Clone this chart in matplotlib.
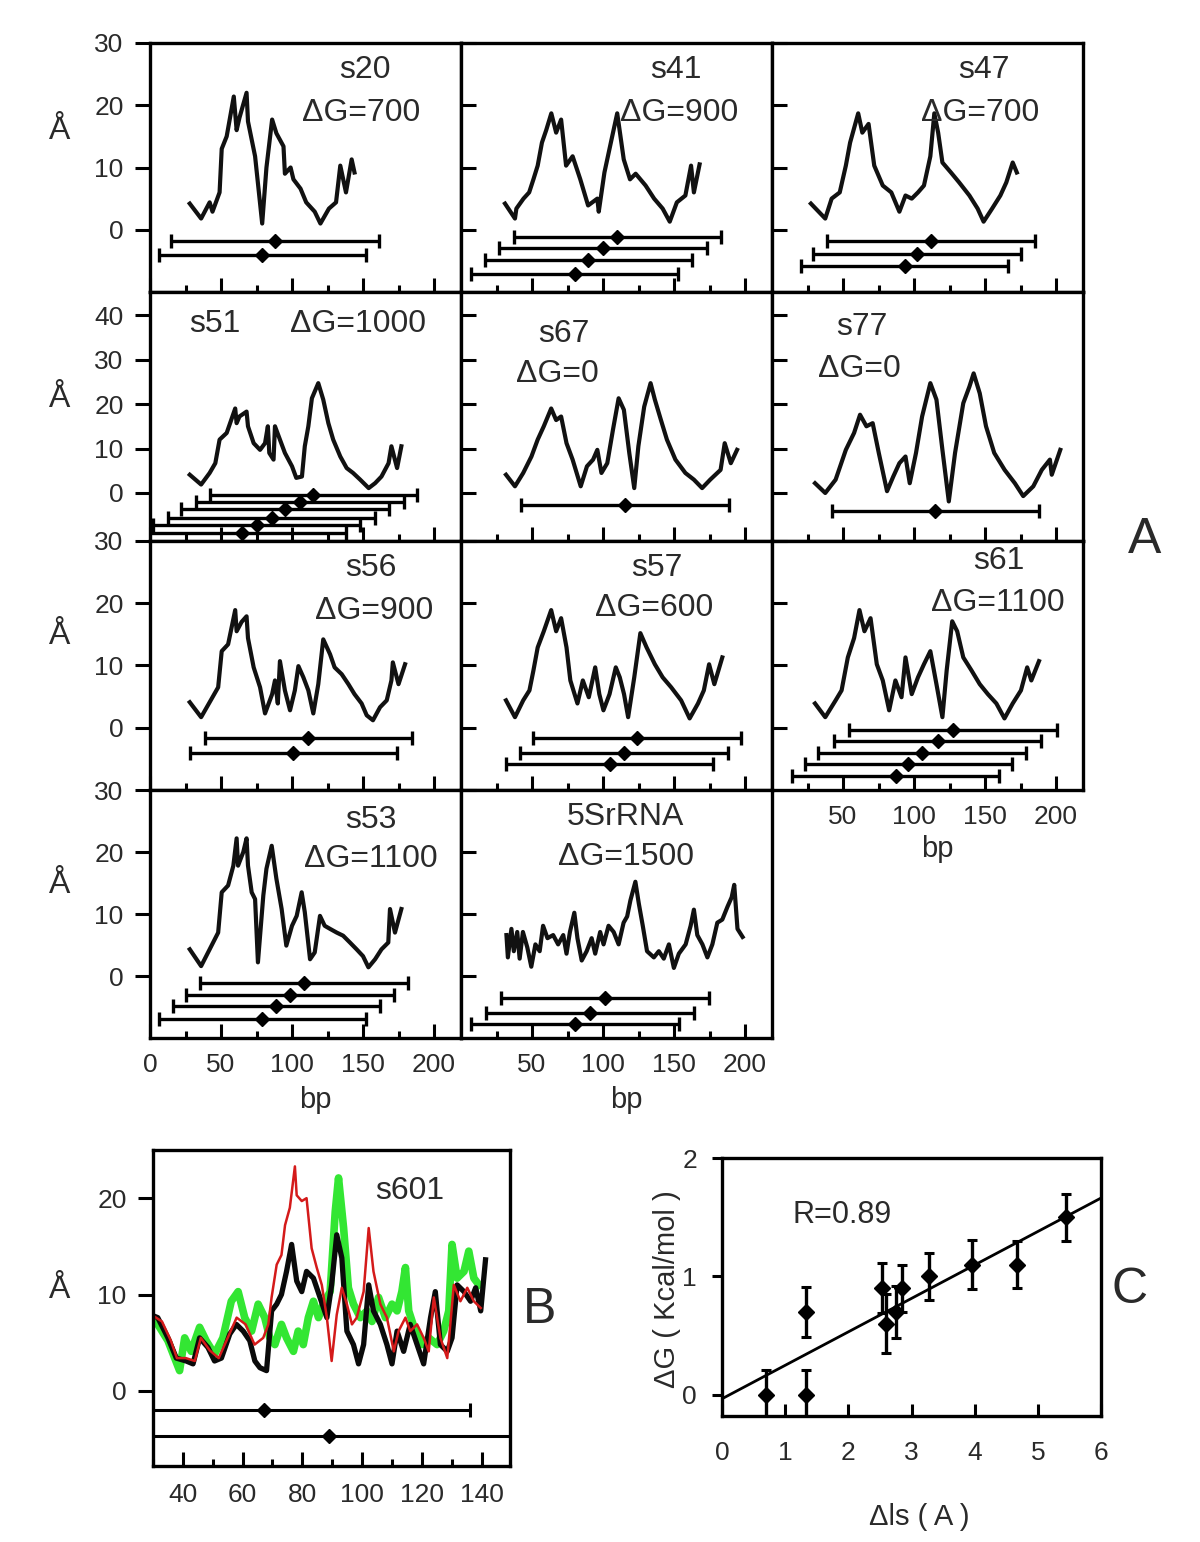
import numpy as np
import matplotlib.pyplot as plt
from matplotlib.ticker import MultipleLocator, FixedLocator

plt.rcParams['font.family'] = ['Liberation Sans', 'DejaVu Sans']

# ---------------- panel A profiles (bp, Angstrom) ----------------
s20_bp = [28, 36, 42, 44, 49, 50.5, 54, 59, 61, 63, 68, 69, 74, 79, 82, 86, 89, 94, 95, 99,
          101, 106, 110, 116, 120, 126, 131, 134, 138, 142, 144]
s20_val = [4.2, 1.8, 4.4, 2.9, 6, 13, 15, 21.4, 16, 18, 22, 17.4, 11.8, 1.0, 10, 17.7, 15.5, 13.4, 9, 10,
           8.1, 6.6, 4.4, 2.9, 1.0, 3.4, 4.4, 10.3, 6, 11.3, 9.2]

s41_bp = [31, 38, 39, 44, 48, 51, 54, 57, 60, 63.6, 67, 70.5, 74, 78.6, 84, 89.5, 96, 97, 101, 106,
          110, 112, 114.6, 119, 123, 130, 136, 142, 147, 152, 158, 162, 164, 168]
s41_val = [4.2, 1.8, 3.4, 5, 6, 8.1, 10.3, 14, 16, 18.7, 15.6, 17.7, 10.3, 11.8, 8.1, 3.9, 5, 2.9, 9.2, 14.5,
           18.7, 15.5, 11.3, 8.1, 9.0, 7.1, 5, 3.4, 1.3, 4.4, 5.5, 10.3, 6, 10.5]

s47_bp = [27.4, 37.5, 42, 47.7, 52, 55, 60.7, 63.6, 68, 72, 78, 84, 89.7, 94, 98.4, 102.8, 107, 111.5,
          114.3, 117, 120, 126, 131.8, 139, 144.8, 149, 155, 160.8, 165, 169.5, 172.4]
s47_val = [4.2, 1.8, 5, 6, 10.3, 14, 18.7, 15.6, 17, 10.3, 7.1, 6, 2.9, 5.5, 5, 6, 7.1, 11.8,
           18.7, 15.6, 10.8, 9.2, 7.6, 5.5, 3.4, 1.3, 3.4, 5.5, 7.6, 10.8, 9.2]

s51_bp = [28, 36, 42, 46, 49, 54, 60, 61, 63, 68, 69, 73, 77.5, 81, 83, 84, 87, 88, 91.5, 95,
          100, 103, 107, 109, 111.5, 114, 118.5, 122, 125.6, 129, 134, 138.5, 143, 148, 154, 158.5,
          163, 168, 170, 174, 177]
s51_val = [4.1, 1.9, 4.5, 6.7, 12, 13.5, 19, 15.7, 17.2, 18.3, 15, 11.2, 9.7, 11.2, 15, 9, 7.5, 15, 12, 9,
           6, 3.4, 3.7, 10.5, 15, 21.3, 24.7, 21, 15.7, 12, 8.2, 5.6, 4.5, 3, 1.1, 2.2,
           3.7, 6.7, 10.5, 5.6, 10.5]

s67_bp = [31.7, 38, 43.8, 49.6, 54, 58.3, 63.5, 67, 70.5, 74.3, 78.6, 84.3, 88.7, 93, 96, 98.9, 103, 107,
          111, 114.7, 118.5, 122, 124.9, 129, 133.5, 136.5, 140.8, 145, 151, 158, 164, 169.8, 175.5,
          182.8, 185.7, 190, 194.4]
s67_val = [4.1, 1.5, 4.5, 8.2, 12, 15, 19, 16.4, 17.2, 11.2, 7.5, 1.5, 6, 7.5, 9.7, 4.5, 6.7, 14.2,
           21.3, 18.7, 9, 1.1, 10.5, 19.4, 24.7, 21, 16.4, 12, 7.5, 4.5, 3, 1.1, 3,
           5.2, 11.2, 6.7, 9.7]

s77_bp = [30.3, 37.5, 44.8, 52, 57.8, 62, 66.5, 70.9, 75.2, 81, 85.4, 89.7, 94, 97, 101.4, 105.7, 111.5,
          115.8, 120, 124.5, 128.9, 134.7, 139, 142, 146.3, 150.7, 156.5, 163.8, 171, 176.9, 184, 190,
          195.7, 197, 203]
s77_val = [2.2, 0, 3, 9.7, 13.5, 17.6, 15, 15.7, 9, 0.4, 3.7, 6.7, 8.2, 2.2, 9, 17.2, 24.7,
           21, 9.7, -1.9, 9, 20.2, 23.9, 26.9, 22.4, 15, 9, 5.2, 2.2, -0.7, 1.5, 5.2,
           7.5, 4.1, 9.7]

s56_bp = [28, 36, 42, 48, 50.5, 55, 60, 61, 64.5, 68, 69, 73, 77.5, 81, 86, 88, 90, 91.5, 95, 98.6,
          102, 104.5, 108, 111.5, 115, 118.5, 122, 126.8, 130, 135, 139.7, 144, 149, 152.6, 157, 162,
          166.7, 170, 171, 175, 179.6]
s56_val = [4.1, 1.7, 4.1, 6.5, 12.3, 13.4, 18.9, 15.5, 17, 17.9, 14.4, 9.7, 6.5, 2.3, 5.4, 7.6, 3.9, 10.7, 6, 2.8,
           6, 9.9, 8.1, 6, 2.3, 7, 14.2, 11.8, 9.7, 8.6, 7, 5.4, 3.9, 2, 1.2, 3.3,
           4.4, 7.6, 10.5, 7, 10.2]

s57_bp = [31.7, 38, 43.8, 48.2, 51, 54, 58.3, 63.5, 67, 70.5, 74.3, 77, 82, 85.8, 90, 94.5, 97.4, 100.3,
          104.6, 109, 111.8, 114.8, 117.7, 122, 126.3, 130.7, 136.5, 142, 148, 155, 161, 166.9, 171,
          174.7, 178.4, 184]
s57_val = [4.4, 1.7, 4.4, 6, 9.2, 12.9, 15.5, 18.9, 15.5, 17.6, 12.9, 7.6, 3.9, 7.6, 4.9, 9.7, 5.4, 2.8,
           5.4, 9.7, 8.1, 5.4, 1.7, 8.1, 15.2, 12.9, 10.2, 8.1, 6.5, 4.4, 1.5, 3.9, 6,
           10.2, 7, 11.3]

s61_bp = [30.3, 37.5, 44.8, 49, 53.4, 57.8, 61.6, 65.1, 69.4, 73.8, 78, 82.5, 86.9, 91.2, 94, 98.4, 102.8,
          107, 111.5, 115.8, 120, 123, 126.9, 130.4, 134.7, 140.5, 146.3, 152, 158, 163.7, 169.5, 175.3,
          179.7, 182.6, 188]
s61_val = [3.9, 1.7, 4.4, 6, 11.3, 14.4, 18.9, 15.5, 17.6, 10.2, 7.6, 2.8, 7.6, 4.9, 11.3, 5.4, 8.1,
           10.2, 12.3, 7, 1.7, 9.2, 17.1, 15.5, 11.3, 9.2, 7, 5.4, 3.9, 1.5, 3.9, 6,
           9.7, 7.6, 10.7]

s53_bp = [28, 36, 42, 48, 50.5, 55, 58.7, 61, 62, 65.7, 68, 69, 71.6, 74, 76, 79.8, 82, 85.7, 89, 92.7,
          96, 100, 103.3, 106.8, 109, 112.7, 116, 119.7, 123, 126.8, 131.5, 136, 140.8, 145.5, 150,
          153.8, 158.5, 163, 167.8, 169, 172.5, 177]
s53_val = [4.3, 1.6, 4.3, 7, 13.5, 14.6, 17.8, 22.2, 17.8, 20, 22.2, 17.8, 13.5, 12.4, 2.2, 13, 17.3, 21, 15.7, 10.8,
           4.9, 8.1, 9.7, 13.5, 10.3, 2.7, 3.8, 9.7, 8.1, 7.6, 7, 6.5, 5.4, 4.3, 3.2,
           1.4, 2.7, 4.3, 5.4, 10.8, 7, 10.8]

rrna_bp = [32, 33, 35.5, 37.2, 39.6, 41.3, 43.6, 46.7, 49.5, 52.4, 55.4, 57.8, 60.9, 64.9, 68.4, 72, 74.3,
           76.7, 79.8, 82, 85, 88.5, 92, 94.5, 98, 100.4, 103.9, 107.5, 111, 114.5, 117, 119.3, 122.8,
           125.2, 128, 131, 135.8, 139.3, 142.8, 146.4, 149.9, 153.4, 158.2, 161.7, 164, 166.4, 170,
           173.5, 177, 180.5, 184, 187.7, 190.6, 192.4, 194.7, 198.3]
rrna_val = [6.6, 3, 7.6, 4, 7.1, 2.8, 7.1, 4.6, 1.5, 5.1, 4, 8.1, 6.1, 6.6, 5.1, 6.6, 3.6,
            7.1, 10.2, 6.1, 2.5, 4, 6.1, 3.6, 7.1, 5.1, 8.1, 7.1, 5.1, 8.6, 9.6, 12.2, 15.2,
            11.7, 8.1, 4, 3, 4, 2.8, 5.1, 1.3, 3.6, 5.1, 8.1, 10.7, 6.6, 5.1,
            3, 5.1, 8.6, 9.1, 11.2, 12.7, 14.7, 7.6, 6.3]

# horizontal bars: centre (bp) and level (Angstrom)
BAR_HW = 73
s20_bar_c, s20_bar_y = [88, 79], [-1.8, -4.1]
s41_bar_c, s41_bar_y = [110, 100, 89.6, 80], [-1.1, -2.9, -4.8, -7.1]
s47_bar_c, s47_bar_y = [112, 102, 93.4], [-1.8, -3.9, -5.9]
s51_bar_c, s51_bar_y = [115, 105.6, 95, 85.7, 75, 65], [-0.5, -2.0, -3.7, -5.6, -7.2, -9.0]
s67_bar_c, s67_bar_y = [115.6], [-2.6]
s77_bar_c, s77_bar_y = [115], [-4.1]
s56_bar_c, s56_bar_y = [111.5, 101], [-1.7, -4.1]
s57_bar_c, s57_bar_y = [124, 114.8, 104.6], [-1.7, -4.1, -5.9]
s61_bar_c, s61_bar_y = [127.5, 116.7, 105.7, 96, 87], [-0.4, -2.1, -4.1, -5.9, -7.7]
s53_bar_c, s53_bar_y = [108.5, 98.6, 89, 79], [-1.1, -3.0, -4.9, -7.0]
rrna_bar_c, rrna_bar_y = [101.5, 90.9, 80.3], [-3.5, -5.9, -7.7]

# ---------------- panel B (s601) ----------------
b_black_bp = [30, 31.6, 35, 37.8, 41.1, 43.4, 45.6, 48.4, 50.6, 52.9, 55.7, 57.9, 60.2, 62.4, 64.1, 65.8,
              68, 69.7, 71.4, 73, 74.7, 76.4, 78.1, 79.8, 81.4, 83.7, 85.9, 88.2, 89.8, 91.5, 93.2, 94.9,
              97.1, 98.8, 100.5, 102.2, 103.8, 106.1, 108.3, 110, 111.7, 113.9, 116.1, 118.4, 120.6,
              122.9, 124.5, 126.2, 128.5, 130.1, 131.8, 134.1, 136.3, 138, 139.7, 141.3]
b_black_val = [7.8, 7.6, 5.5, 3.4, 3.1, 2.8, 5.5, 4.5, 3.1, 3.4, 5.9, 6.9, 6.2, 5.2, 3.1, 2.4,
               2.1, 8.3, 9, 10, 12.4, 15.2, 11.4, 10.3, 12.4, 11.7, 9.7, 7.6, 11, 16.2, 13.8, 6.2,
               4.8, 2.8, 4.8, 11, 8.3, 6.9, 4.8, 2.8, 6.2, 4.1, 6.9, 4.8, 2.8,
               7.6, 10.3, 4.8, 4.1, 5.5, 11, 10.3, 9.3, 10.7, 8.3, 13.6]
b_red_bp = [30, 33, 36, 38, 41, 44, 46, 49, 52, 55, 58, 61, 64, 66.9, 68.6, 69.7, 71.4, 73, 74.2, 75.8,
            77.5, 78.1, 79.8, 81.4, 83.1, 84.8, 86.5, 88.2, 89.8, 91.5, 93.2, 94.9, 96.6, 98.2, 100.5,
            102.2, 103.8, 106.1, 108.3, 110.6, 112.2, 114.5, 116.1, 118.4, 120.6, 122.3, 124, 126.2,
            128.5, 130.7, 132.9, 135.2, 137.4, 139.7]
b_red_val = [7.8, 7.2, 5.2, 3.4, 3.4, 3.1, 5.5, 4.2, 3.4, 5.5, 7.6, 6.9, 4.8, 5.5, 6.9, 9.7, 13.1, 14.1, 17.2, 19,
             23.3, 20.3, 19.7, 20, 14.8, 12.8, 11, 7.6, 3.1, 7.9, 10.7, 9, 6.9, 7.6, 10.3,
             16.9, 12.4, 9, 7.6, 4.1, 6.2, 7.6, 6.2, 6.9, 5.5, 4.1, 9.7, 5.5,
             3.4, 11, 9.3, 10.7, 9.3, 8.6]
b_green_bp = [30, 31.6, 35, 38.9, 40.6, 42.8, 45.6, 47.8, 50.6, 53.4, 56.2, 58.5, 60.7, 63, 65.2, 67.4,
              69.1, 70.8, 73, 74.7, 77, 78.6, 80.3, 82, 83.7, 85.4, 87, 89.3, 91, 92.1, 93.8, 95.4, 97.1,
              99.4, 101.6, 103.3, 105.5, 107.8, 110, 111.7, 113.3, 114.5, 115.6, 117.8, 120.1, 122.3,
              125.1, 127.3, 129, 130.1, 131.8, 134.1, 135.7, 137.4, 139.1]
b_green_val = [7.2, 6.9, 5.2, 2.1, 5.5, 4.1, 6.6, 5.2, 3.8, 5.5, 9.3, 10.3, 7.6, 6.2, 9, 7.6,
               5.5, 4.8, 6.9, 5.5, 4.1, 6.2, 4.8, 7.6, 9.3, 7.6, 9, 10.3, 18.6, 22.1, 16.9, 10.7, 9,
               7.6, 8.3, 7.2, 9.7, 7.6, 9, 8.3, 10.3, 12.8, 8.3, 6.2, 4.8, 5.5,
               4.8, 6.2, 8.3, 15.2, 11.7, 12.4, 14.5, 11.7, 11]
b_bar_c, b_bar_y, B_BAR_HW = [67, 89], [-2.0, -4.7], 69

# ---------------- panel C ----------------
c_dls = [0.69, 1.33, 1.33, 2.53, 2.59, 2.76, 2.85, 3.27, 3.95, 4.67, 5.44]
c_dg = [0.0, 0.0, 0.7, 0.9, 0.6, 0.7, 0.9, 1.0, 1.1, 1.1, 1.5]
c_err = [0.21, 0.21, 0.21, 0.21, 0.25, 0.22, 0.2, 0.2, 0.21, 0.2, 0.2]

W, H = 1200, 1542
fig = plt.figure(figsize=(W / 100, H / 100), dpi=100)
TXT = '#2a2a2a'
TICK_FS = 19


def px_axes(x0, y0, x1, y1):
    return fig.add_axes([x0 / W, 1 - y1 / H, (x1 - x0) / W, (y1 - y0) / H])


col_edges = [150, 461, 772, 1083]
row_edges = [43, 292, 541, 790, 1038]
row_ylim = [(-10, 30), (-10.8, 45.2), (-10, 30), (-10, 30)]
row_ylab = [0.645, 0.57, 0.62, 0.617]

panels = [
    (0, 0, s20_bp, s20_val, s20_bar_c, s20_bar_y, 's20', 'ΔG=700', (0.69, 0.89), (0.68, 0.72)),
    (0, 1, s41_bp, s41_val, s41_bar_c, s41_bar_y, 's41', 'ΔG=900', (0.69, 0.89), (0.70, 0.72)),
    (0, 2, s47_bp, s47_val, s47_bar_c, s47_bar_y, 's47', 'ΔG=700', (0.68, 0.89), (0.67, 0.72)),
    (1, 0, s51_bp, s51_val, s51_bar_c, s51_bar_y, 's51', 'ΔG=1000', (0.21, 0.87), (0.67, 0.87)),
    (1, 1, s67_bp, s67_val, s67_bar_c, s67_bar_y, 's67', 'ΔG=0', (0.33, 0.83), (0.31, 0.67)),
    (1, 2, s77_bp, s77_val, s77_bar_c, s77_bar_y, 's77', 'ΔG=0', (0.29, 0.86), (0.28, 0.69)),
    (2, 0, s56_bp, s56_val, s56_bar_c, s56_bar_y, 's56', 'ΔG=900', (0.71, 0.89), (0.72, 0.72)),
    (2, 1, s57_bp, s57_val, s57_bar_c, s57_bar_y, 's57', 'ΔG=600', (0.63, 0.89), (0.62, 0.73)),
    (2, 2, s61_bp, s61_val, s61_bar_c, s61_bar_y, 's61', 'ΔG=1100', (0.73, 0.92), (0.725, 0.75)),
    (3, 0, s53_bp, s53_val, s53_bar_c, s53_bar_y, 's53', 'ΔG=1100', (0.71, 0.88), (0.71, 0.72)),
    (3, 1, rrna_bp, rrna_val, rrna_bar_c, rrna_bar_y, '5SrRNA', 'ΔG=1500', (0.53, 0.89), (0.53, 0.73)),
]

for r, c, bp, val, bc, by, name, dg, pos1, pos2 in panels:
    ax = px_axes(col_edges[c], row_edges[r], col_edges[c + 1], row_edges[r + 1])
    ax.plot(bp, val, color='#111111', lw=3.0)
    ax.errorbar(bc, by, xerr=BAR_HW, fmt='D', ms=7, color='k', ecolor='k',
                elinewidth=2.4, capsize=5, capthick=2.4)
    ax.set_xlim(0, 219)
    ax.set_ylim(*row_ylim[r])
    for s in ax.spines.values():
        s.set_linewidth(2.4)
    ax.xaxis.set_minor_locator(FixedLocator([25, 75, 125, 175]))
    ax.xaxis.set_major_locator(FixedLocator([0, 50, 100, 150, 200] if c == 0 else [50, 100, 150, 200]))
    ax.yaxis.set_major_locator(FixedLocator([0, 10, 20, 30, 40] if r == 1 else [0, 10, 20, 30]))
    ax.tick_params(axis='x', which='major', direction='in', length=10, width=2.2, pad=11,
                   labelsize=TICK_FS, labelcolor=TXT)
    ax.tick_params(axis='x', which='minor', direction='in', length=5, width=2.2)
    ax.tick_params(axis='y', direction='out' if c == 0 else 'in', length=11, width=2.2, pad=8,
                   labelsize=TICK_FS, labelcolor=TXT)
    show_x = (r == 3) or (r == 2 and c == 2)
    ax.tick_params(axis='x', labelbottom=show_x)
    ax.tick_params(axis='y', labelleft=(c == 0))
    if show_x:
        ax.text(0.53, -0.25 if r == 3 else -0.235, 'bp', transform=ax.transAxes,
                ha='center', va='center', fontsize=21, color=TXT)
    if c == 0:
        ax.text(-0.29, row_ylab[r], 'Å', transform=ax.transAxes, ha='center', va='center',
                fontsize=23, color=TXT)
    ax.text(*pos1, name, transform=ax.transAxes, ha='center', va='center', fontsize=23, color=TXT)
    ax.text(*pos2, dg, transform=ax.transAxes, ha='center', va='center', fontsize=23, color=TXT)

fig.text(1145 / W, 1 - 540 / H, 'A', ha='center', va='center', fontsize=36, color=TXT)

# ---------------- panel B ----------------
axb = px_axes(153, 1150, 510, 1466)
axb.plot(b_green_bp, b_green_val, color='#33e633', lw=5.5)
axb.plot(b_black_bp, b_black_val, color='#0a0a0a', lw=3.8)
axb.plot(b_red_bp, b_red_val, color='#d41a1a', lw=1.8)
axb.errorbar(b_bar_c, b_bar_y, xerr=B_BAR_HW, fmt='D', ms=7, color='k', ecolor='k',
             elinewidth=2.2, capsize=5, capthick=2.2)
axb.set_xlim(30, 149.5)
axb.set_ylim(-7.8, 25)
for s in axb.spines.values():
    s.set_linewidth(2.4)
axb.xaxis.set_major_locator(MultipleLocator(20))
axb.xaxis.set_minor_locator(MultipleLocator(10))
axb.yaxis.set_major_locator(FixedLocator([0, 10, 20]))
axb.tick_params(axis='x', which='major', direction='in', length=10, width=2.2, pad=12,
                labelsize=TICK_FS, labelcolor=TXT)
axb.tick_params(axis='x', which='minor', direction='in', length=5, width=2.2)
axb.tick_params(axis='y', direction='out', length=11, width=2.2, pad=8, labelsize=TICK_FS,
                labelcolor=TXT)
axb.text(-0.26, 0.557, 'Å', transform=axb.transAxes, ha='center', va='center', fontsize=23, color=TXT)
axb.text(0.72, 0.87, 's601', transform=axb.transAxes, ha='center', va='center', fontsize=23, color=TXT)
fig.text(540 / W, 1 - 1310 / H, 'B', ha='center', va='center', fontsize=36, color=TXT)

# ---------------- panel C ----------------
axc = px_axes(722, 1158, 1101, 1416)
axc.set_xlim(0, 6)
axc.set_ylim(-0.18, 2)
slope, intercept = np.polyfit(c_dls, c_dg, 1)
xs = np.array(axc.get_xlim())
axc.plot(xs, intercept + slope * xs, color='k', lw=2.0)
axc.errorbar(c_dls, c_dg, yerr=c_err, fmt='D', ms=8, color='k', ecolor='k',
             elinewidth=2.4, capsize=3.5, capthick=2.2)
for s in axc.spines.values():
    s.set_linewidth(2.4)
axc.xaxis.set_major_locator(MultipleLocator(1))
axc.yaxis.set_major_locator(FixedLocator([0, 1, 2]))
axc.tick_params(axis='x', direction='in', length=9, width=2.2, pad=18, labelsize=TICK_FS,
                labelcolor=TXT)
axc.tick_params(axis='y', direction='out', length=7, width=2.2, pad=11, labelsize=TICK_FS,
                labelcolor=TXT)
axc.text(-0.145, 0.49, 'ΔG ( Kcal/mol )', transform=axc.transAxes, rotation=90,
         ha='center', va='center', fontsize=21, color=TXT)
axc.text(0.52, -0.39, 'Δls ( A )', transform=axc.transAxes, ha='center', va='center',
         fontsize=21, color=TXT)
axc.text(0.317, 0.78, 'R=0.89', transform=axc.transAxes, ha='center', va='center',
         fontsize=22, color=TXT)
fig.text(1130 / W, 1 - 1290 / H, 'C', ha='center', va='center', fontsize=36, color=TXT)

fig.savefig('out.png', dpi=100, facecolor='white')
